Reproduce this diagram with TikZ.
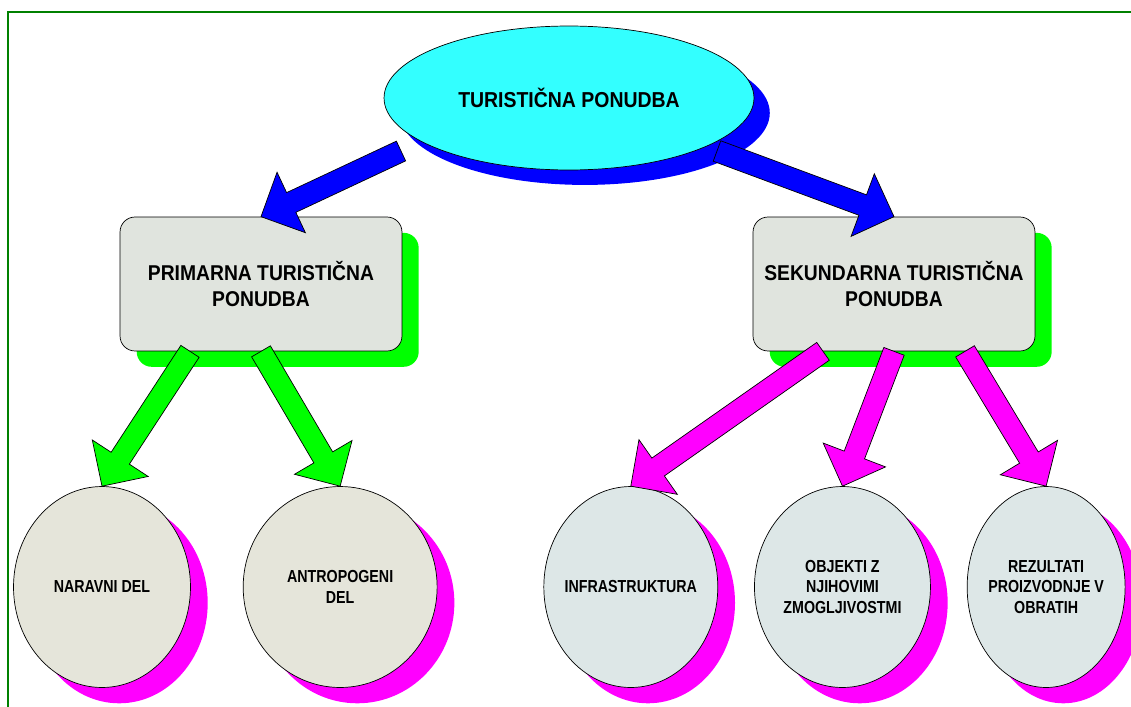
\documentclass[tikz,border=0pt]{standalone}
\usepackage{fontspec}
\setmainfont{Liberation Sans}
\newfontfamily\headfont[FakeStretch=0.9]{Liberation Sans}
\newfontfamily\circfont[FakeStretch=0.82]{Liberation Sans}
\usetikzlibrary{shapes.geometric, shadows, calc, positioning}

\definecolor{ovalcyan}{RGB}{51,255,255}
\definecolor{boxgray}{RGB}{224,228,222}
\definecolor{warmgray}{RGB}{229,229,218}
\definecolor{coolgray}{RGB}{221,231,231}
\definecolor{framegreen}{RGB}{0,128,0}
\definecolor{shadegreen}{RGB}{0,255,0}
\definecolor{shadeblue}{RGB}{0,0,255}
\definecolor{shadepink}{RGB}{255,0,255}

% block arrow: fill, tail, tip
\newcommand{\bigarrow}[3]{%
  \filldraw[fill=#1, draw=black, line join=miter]
    ($(#2)!6.2pt!90:(#3)$)
    -- ($($(#3)!19pt!(#2)$)!6.2pt!90:(#3)$)
    -- ($($(#3)!19pt!(#2)$)!19pt!90:(#3)$)
    -- (#3)
    -- ($($(#3)!19pt!(#2)$)!19pt!-90:(#3)$)
    -- ($($(#3)!19pt!(#2)$)!6.2pt!-90:(#3)$)
    -- ($(#2)!6.2pt!-90:(#3)$) -- cycle;}

\begin{document}
\begin{tikzpicture}[
    x=0.02cm, y=-0.02cm,
    mainoval/.style={ellipse, draw, fill=ovalcyan, minimum width=7.4cm, minimum height=2.88cm,
        font=\headfont\bfseries\fontsize{12.3}{14.7}\selectfont,
        drop shadow={shadow xshift=9pt, shadow yshift=-8.5pt, fill=shadeblue, opacity=1}},
    partbox/.style={rectangle, rounded corners=0.3cm, draw, fill=boxgray, minimum width=5.64cm,
        minimum height=2.68cm, align=center, font=\headfont\bfseries\fontsize{12.2}{14.7}\selectfont,
        drop shadow={shadow xshift=9.5pt, shadow yshift=-9pt, fill=shadegreen, opacity=1}},
    partcirc/.style={ellipse, draw, minimum height=4.02cm, inner sep=0pt, inner xsep=-5pt, align=center,
        font=\circfont\bfseries\fontsize{9.9}{11.5}\selectfont,
        drop shadow={shadow xshift=9.8pt, shadow yshift=-9pt, fill=shadepink, opacity=1}}
]
\useasboundingbox (0,0) rectangle (1131,706);
\clip (0,0) rectangle (1131,706);

% Frame
\draw[framegreen, line width=1.2pt] (8,12) rectangle (1160,740);

% Top
\node[mainoval] (top) at (569,98) {TURISTIČNA PONUDBA};

% Parts
\node[partbox] (prim) at (261,284) {PRIMARNA TURISTIČNA\\PONUDBA};
\node[partbox] (sek) at (894,284) {SEKUNDARNA TURISTIČNA\\PONUDBA};

% Components
\node[partcirc, fill=warmgray, minimum width=3.54cm] (nar) at (102,587) {NARAVNI DEL};
\node[partcirc, fill=warmgray, minimum width=3.88cm, right=1.04cm of nar] (ant) {ANTROPOGENI\\DEL};
\node[partcirc, fill=coolgray, minimum width=3.48cm, right=2.12cm of ant] (inf) {INFRASTRUKTURA};
\node[partcirc, fill=coolgray, minimum width=3.52cm, right=0.72cm of inf] (obj) {OBJEKTI Z\\NJIHOVIMI\\ZMOGLJIVOSTMI};
\node[partcirc, fill=coolgray, minimum width=3.16cm, right=0.72cm of obj] (rez) {REZULTATI\\PROIZVODNJE V\\OBRATIH};

% Arrow tails
\coordinate (tl) at ($(top.center)+(-168,53)$);
\coordinate (tr) at ($(top.center)+(148,53)$);
\coordinate (pl) at ($(prim.south)+(-71,0)$);
\coordinate (sl) at ($(sek.south)+(-71,0)$);
\coordinate (sr) at ($(sek.south)+(71,0)$);

% Arrows
\bigarrow{shadeblue}{tl}{prim.north}
\bigarrow{shadeblue}{tr}{sek.north}
\bigarrow{shadegreen}{pl}{nar.north}
\bigarrow{shadegreen}{prim.south}{ant.north}
\bigarrow{shadepink}{sl}{inf.north}
\bigarrow{shadepink}{sek.south}{obj.north}
\bigarrow{shadepink}{sr}{rez.north}
\end{tikzpicture}
\end{document}
